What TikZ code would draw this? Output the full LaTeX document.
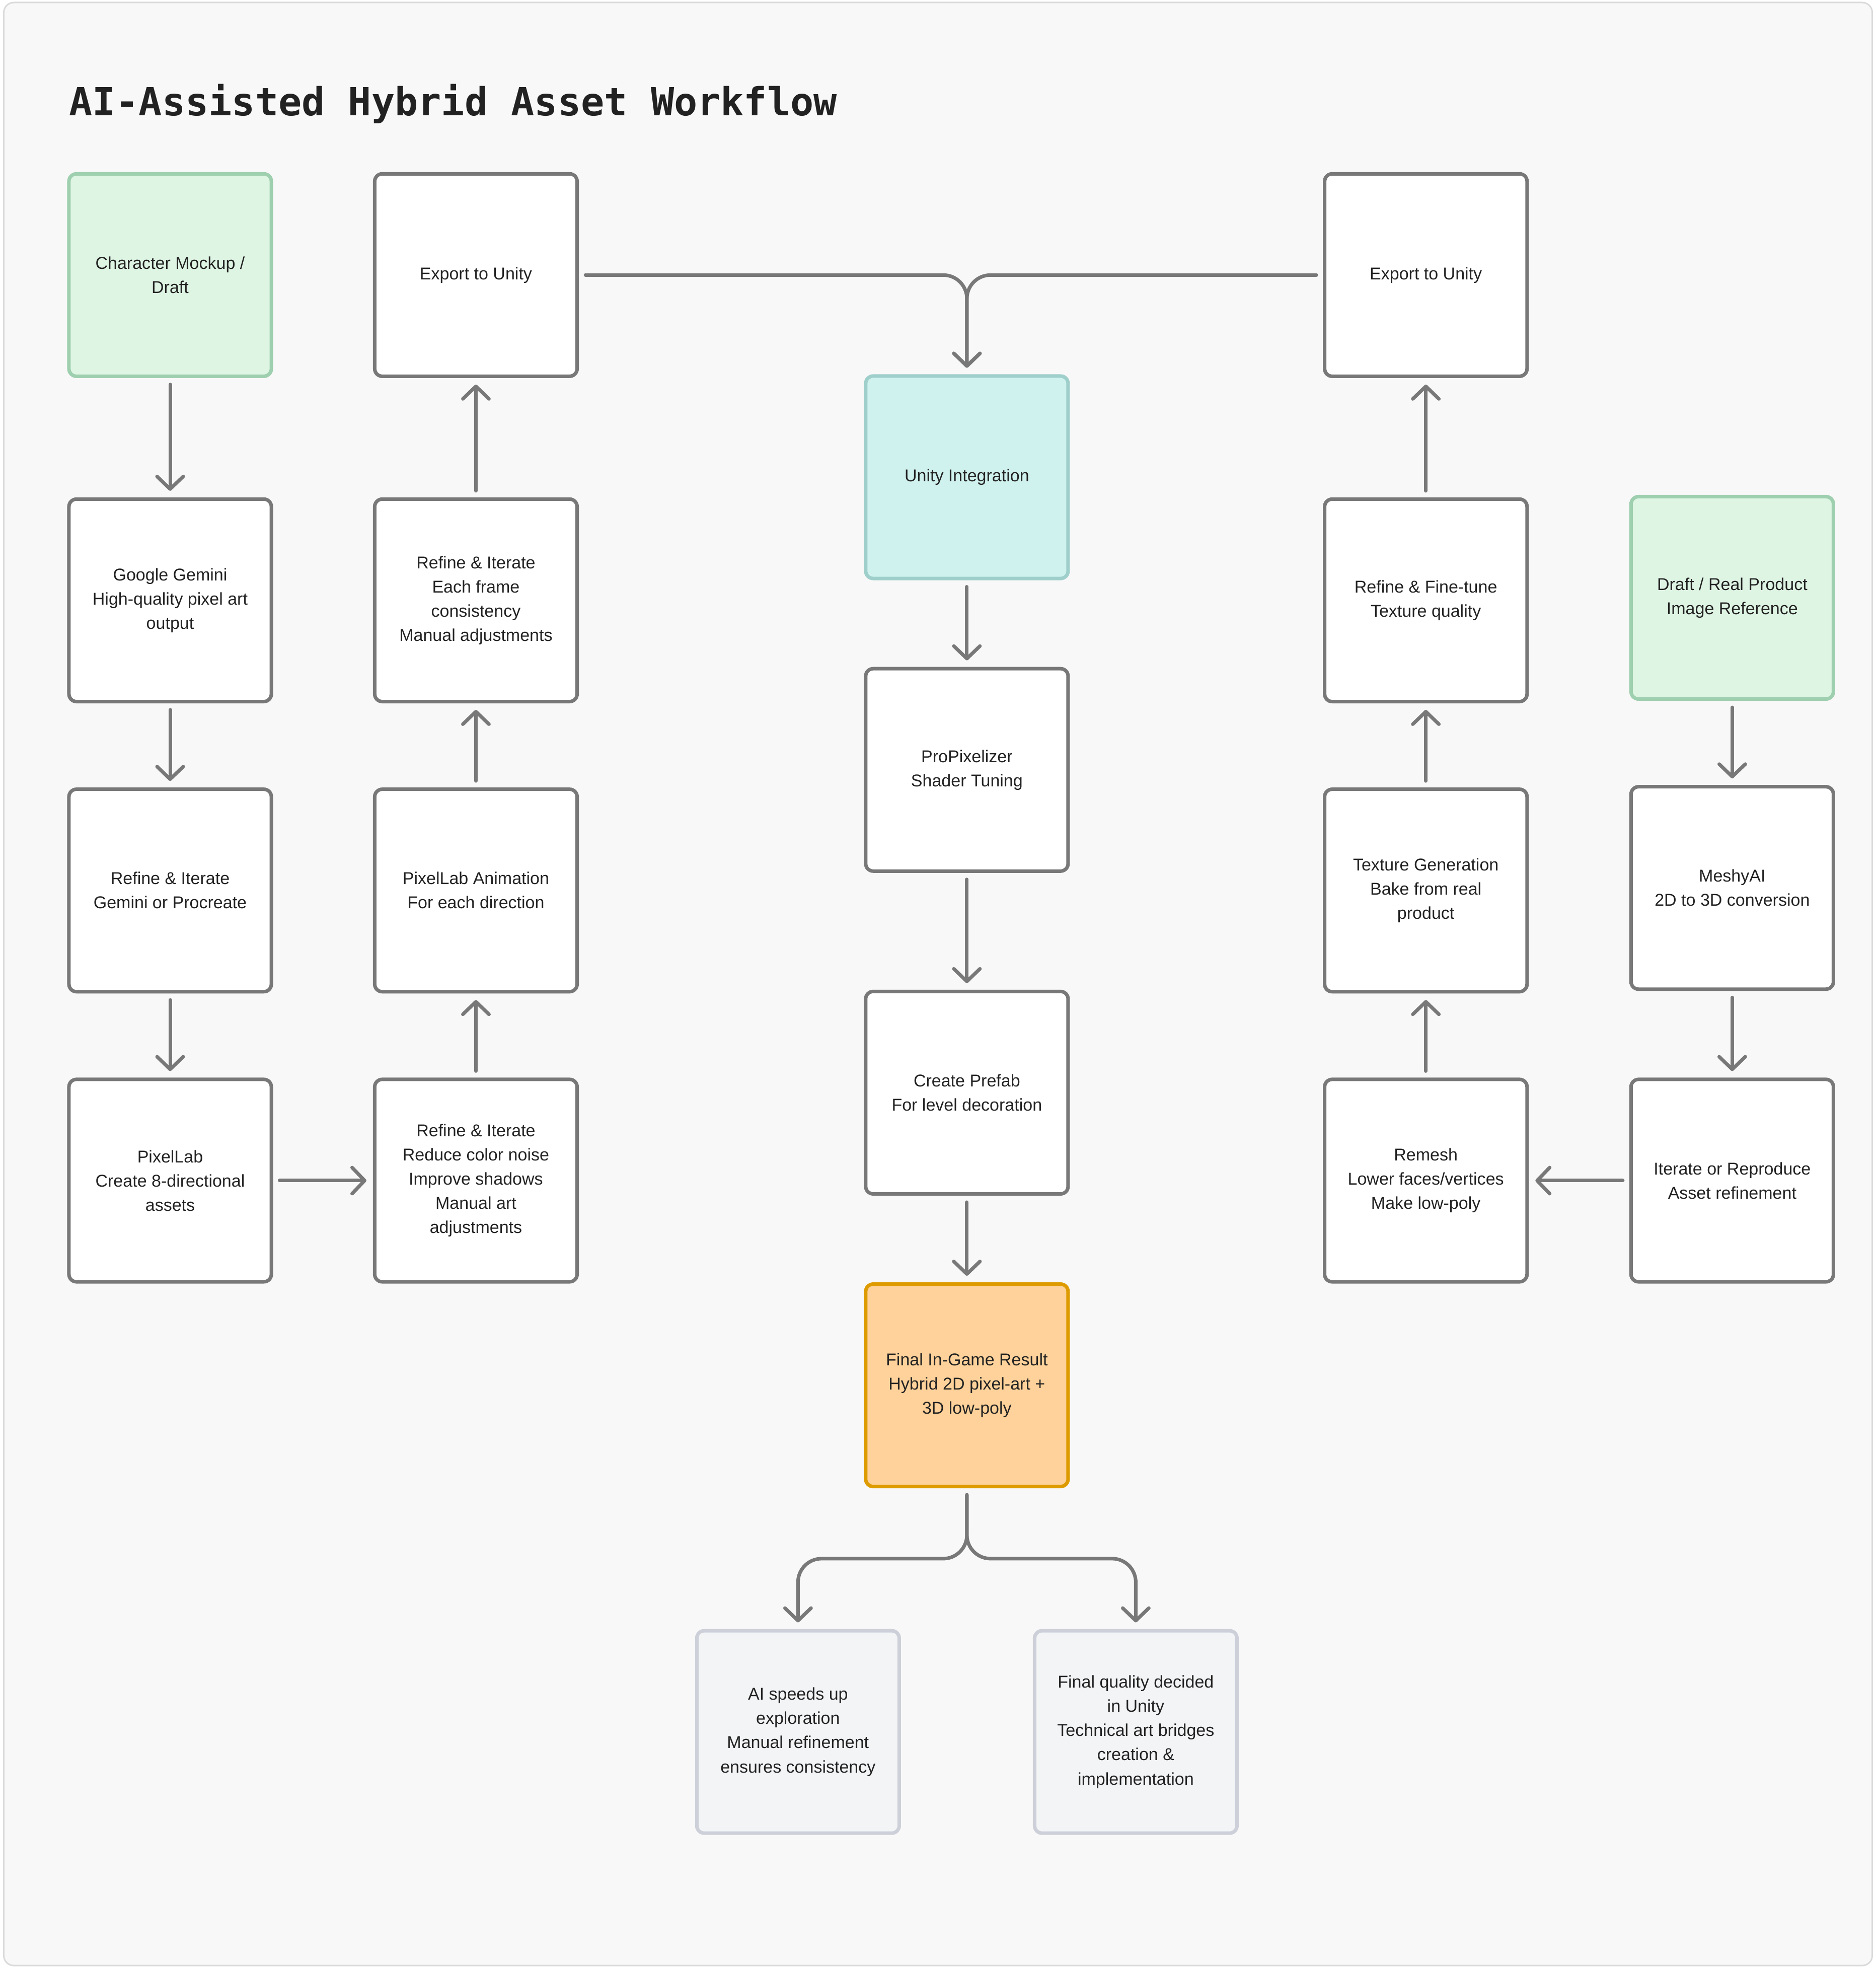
\documentclass[tikz,border=0pt]{standalone}
\usepackage{fontspec}
\setmainfont{Liberation Sans}
\newfontfamily\titlefont{DejaVu Sans Mono}
\usepackage{xcolor}
\usepackage{tikz}
\usetikzlibrary{arrows.meta,positioning}

\definecolor{linegray}{HTML}{787878}
\definecolor{textdark}{HTML}{222222}
\definecolor{framegray}{HTML}{DADADA}
\definecolor{framefill}{HTML}{F8F8F8}
\definecolor{greenfill}{HTML}{DFF5E4}
\definecolor{greenline}{HTML}{9ECFAF}
\definecolor{cyanfill}{HTML}{D0F2EE}
\definecolor{cyanline}{HTML}{9FCFCB}
\definecolor{orangefill}{HTML}{FED29A}
\definecolor{orangeline}{HTML}{DE9B00}
\definecolor{notefill}{HTML}{F3F4F6}
\definecolor{noteline}{HTML}{CDD0D9}

\begin{document}
\begin{tikzpicture}[
    box/.style={rectangle, draw=linegray, fill=white, line width=2pt, rounded corners=1.5mm, minimum width=4.03cm, minimum height=4.03cm, align=center, text=textdark, font=\fontsize{9.7}{13.7}\selectfont},
    source/.style={box, draw=greenline, fill=greenfill},
    engine/.style={box, draw=cyanline, fill=cyanfill},
    result/.style={box, draw=orangeline, fill=orangefill},
    note/.style={box, draw=noteline, fill=notefill},
    arrow/.style={-{Straight Barb[length=2.5mm, width=5.2mm, round]}, line width=2pt, draw=linegray, line cap=round, line join=round, shorten <=1.3mm, shorten >=1.3mm}]
  \useasboundingbox (0,0) rectangle (37.35,-39.194);
  \draw[draw=framegray, fill=framefill, line width=0.85pt, rounded corners=2mm] (0.075,-0.05) rectangle (37.275,-39.125);
  \node[anchor=base west, text=textdark, font=\titlefont\bfseries\fontsize{21.9}{26}\selectfont] (title) at (1.25,-2.3) {AI-Assisted Hybrid Asset Workflow};

  % 2D pixel-art branch
  \node[source] (mockup) at (3.3875,-5.475) {Character Mockup /\\Draft};
  \node[box] (gemini) at (3.3875,-11.95) {Google Gemini\\High-quality pixel art\\output};
  \node[box] (refineA) at (3.3875,-17.725) {Refine \& Iterate\\Gemini or Procreate};
  \node[box] (pixellab) at (3.3875,-23.5) {PixelLab\\Create 8-directional\\assets};
  \node[box] (refineB) at (9.475,-23.5) {Refine \& Iterate\\Reduce color noise\\Improve shadows\\Manual art\\adjustments};
  \node[box] (animation) at (9.475,-17.725) {PixelLab Animation\\For each direction};
  \node[box] (refineC) at (9.475,-11.95) {Refine \& Iterate\\Each frame\\consistency\\Manual adjustments};
  \node[box] (exportA) at (9.475,-5.475) {Export to Unity};

  % Unity
  \node[engine] (unity) at (19.25,-9.5) {Unity Integration};
  \node[box] (shader) at (19.25,-15.325) {ProPixelizer\\Shader Tuning};
  \node[box] (prefab) at (19.25,-21.75) {Create Prefab\\For level decoration};
  \node[result] (final) at (19.25,-27.575) {Final In-Game Result\\Hybrid 2D pixel-art +\\3D low-poly};
  \node[note] (speed) at (15.8875,-34.475) {AI speeds up\\exploration\\Manual refinement\\ensures consistency};
  \node[note] (quality) at (22.6125,-34.475) {Final quality decided\\in Unity\\Technical art bridges\\creation \&\\implementation};
  \coordinate (split) at (19.25,-31.025);

  % 3D low-poly branch
  \node[source] (reference) at (34.4875,-11.9) {Draft / Real Product\\Image Reference};
  \node[box] (meshy) at (34.4875,-17.675) {MeshyAI\\2D to 3D conversion};
  \node[box] (iterate) at (34.4875,-23.5) {Iterate or Reproduce\\Asset refinement};
  \node[box] (remesh) at (28.3875,-23.5) {Remesh\\Lower faces/vertices\\Make low-poly};
  \node[box] (texture) at (28.3875,-17.725) {Texture Generation\\Bake from real\\product};
  \node[box] (finetune) at (28.3875,-11.95) {Refine \& Fine-tune\\Texture quality};
  \node[box] (exportB) at (28.3875,-5.475) {Export to Unity};

  \draw[arrow] (mockup) -- (gemini);
  \draw[arrow] (gemini) -- (refineA);
  \draw[arrow] (refineA) -- (pixellab);
  \draw[arrow] (pixellab) -- (refineB);
  \draw[arrow] (refineB) -- (animation);
  \draw[arrow] (animation) -- (refineC);
  \draw[arrow] (refineC) -- (exportA);
  \draw[arrow, rounded corners=4.7mm] (exportA) -| (unity);
  \draw[arrow, rounded corners=4.7mm] (exportB) -| (unity);
  \draw[arrow] (unity) -- (shader);
  \draw[arrow] (shader) -- (prefab);
  \draw[arrow] (prefab) -- (final);
  \draw[arrow, rounded corners=4.7mm] (final) -- (split) -| (speed);
  \draw[arrow, rounded corners=4.7mm] (final) -- (split) -| (quality);
  \draw[arrow] (reference) -- (meshy);
  \draw[arrow] (meshy) -- (iterate);
  \draw[arrow] (iterate) -- (remesh);
  \draw[arrow] (remesh) -- (texture);
  \draw[arrow] (texture) -- (finetune);
  \draw[arrow] (finetune) -- (exportB);
\end{tikzpicture}
\end{document}
